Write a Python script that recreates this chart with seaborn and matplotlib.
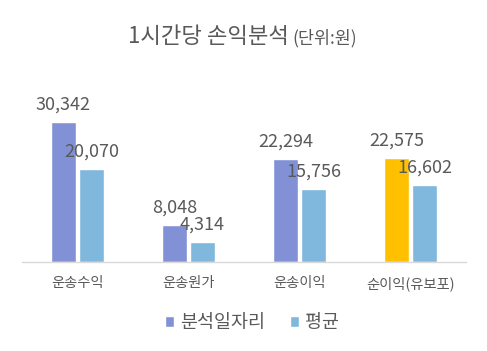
import matplotlib
matplotlib.use("Agg")
import matplotlib.pyplot as plt
from matplotlib.patches import Patch
import seaborn as sns
import pandas as pd

categories = ["운송수익", "운송원가", "운송이익", "순이익(유보포)"]
series_names = ["분석일자리", "평균"]
analysis_values = [30342, 8048, 22294, 22575]
average_values = [20070, 4314, 15756, 16602]

title_main = "1시간당 손익분석"
title_unit = "(단위:원)"

c_blue = "#8291D6"
c_light = "#7FB8DC"
c_yellow = "#FFC000"
c_text = "#595959"

sns.set_theme(style="white")
plt.rcParams['font.family'] = ['Noto Sans CJK KR', 'DejaVu Sans']

df = pd.DataFrame({
    "category": categories * 2,
    "series": [series_names[0]] * len(categories) + [series_names[1]] * len(categories),
    "value": analysis_values + average_values,
})

fig = plt.figure(figsize=(4.87, 3.51), dpi=100)
ax = fig.add_axes([22 / 487, 1 - 262 / 351, 444 / 487, (262 - 77) / 351])

sns.barplot(data=df, x="category", y="value", hue="series",
            palette=[c_blue, c_light], width=0.505, gap=0.107,
            ax=ax, legend=False, saturation=1)

# highlight last bar of first series
ax.containers[0].patches[3].set_facecolor(c_yellow)

for cont in ax.containers:
    ax.bar_label(cont, fmt="{:,.0f}", padding=6, fontsize=13, color=c_text)

ax.set_ylim(0, 40000)
ax.set_xlim(-0.5, 3.5)
ax.set_xlabel("")
ax.set_ylabel("")
ax.set_yticks([])
ax.tick_params(axis="x", length=0, pad=10, labelsize=10.3, labelcolor=c_text)
for s in ["top", "right", "left"]:
    ax.spines[s].set_visible(False)
ax.spines["bottom"].set_color("#D9D9D9")
ax.spines["bottom"].set_linewidth(1.0)

t1 = fig.text(128 / 487, 1 - 43 / 351, title_main, fontsize=16, color=c_text, va="baseline", ha="left")
fig.canvas.draw()
bb = t1.get_window_extent(renderer=fig.canvas.get_renderer())
x_end = bb.x1 / fig.bbox.width
fig.text(x_end + 3 / 487, 1 - 43 / 351, title_unit, fontsize=12.5, color=c_text, va="baseline", ha="left")

handles = [Patch(facecolor=c_blue, label=series_names[0]),
           Patch(facecolor=c_light, label=series_names[1])]
fig.legend(handles=handles, loc="center", bbox_to_anchor=(252 / 487, 1 - 323 / 351),
           ncol=2, frameon=False, fontsize=13.3, labelcolor=c_text,
           handlelength=0.5, handleheight=0.5, handletextpad=0.35, columnspacing=1.3)

fig.savefig("out.png", dpi=100, facecolor="white")
